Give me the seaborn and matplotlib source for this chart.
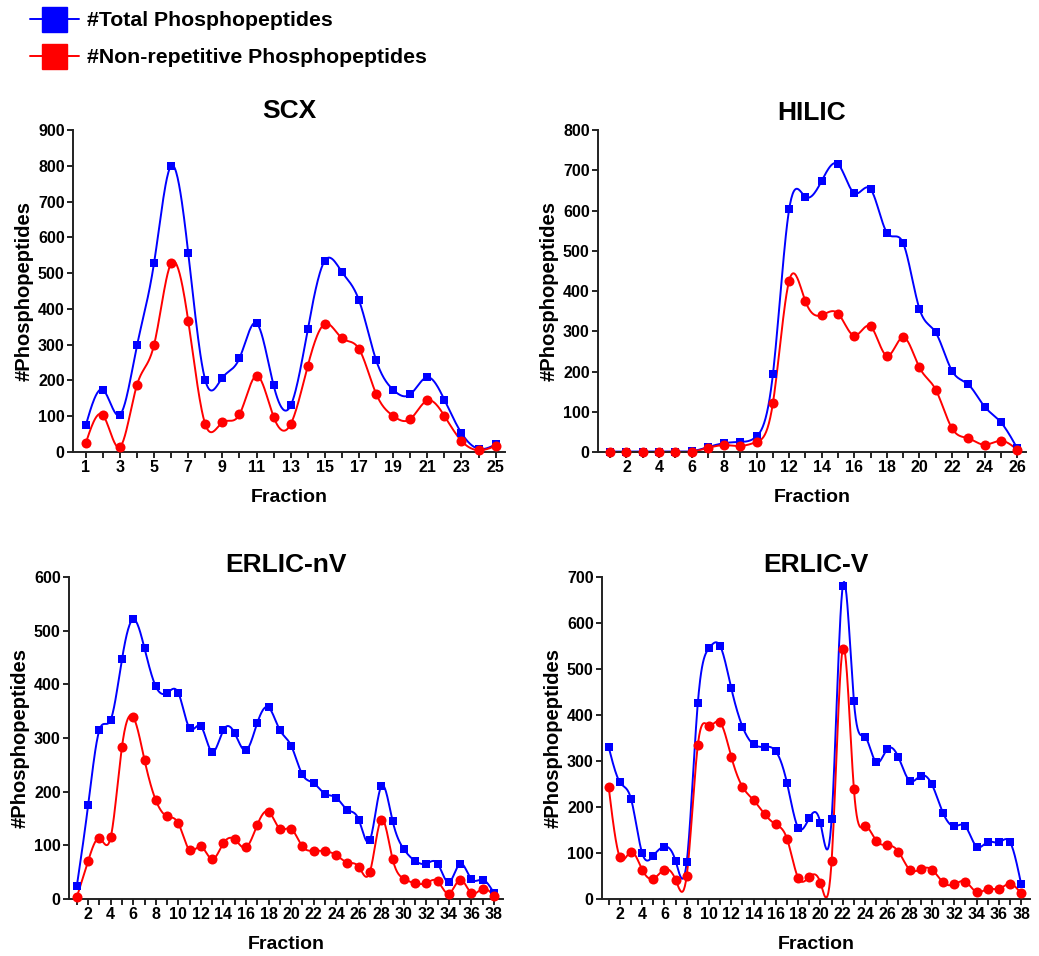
import numpy as np
import pandas as pd
import matplotlib
matplotlib.use("Agg")
import matplotlib.pyplot as plt
from matplotlib.lines import Line2D
from matplotlib.ticker import MultipleLocator
import seaborn as sns

# ---------------- data ----------------
scx_frac = list(range(1, 26))
scx_total = [75, 174, 104, 298, 529, 800, 556, 200, 208, 262, 360, 186, 130,
             343, 535, 503, 424, 257, 174, 161, 209, 146, 53, 9, 21]
scx_nonrep = [25, 103, 14, 188, 300, 528, 366, 77, 83, 105, 213, 98, 78,
              241, 358, 318, 288, 163, 101, 92, 144, 101, 31, 5, 17]

hilic_frac = list(range(1, 27))
hilic_total = [1, 1, 1, 1, 1, 2, 12, 22, 25, 39, 194, 604, 634, 674, 715, 643,
               653, 545, 519, 356, 297, 202, 168, 113, 74, 10]
hilic_nonrep = [0, 0, 0, 0, 0, 1, 10, 17, 15, 25, 122, 426, 374, 340, 344, 289,
                312, 239, 285, 210, 155, 59, 34, 18, 28, 6]

erlicnv_frac = list(range(1, 39))
erlicnv_total = [25, 175, 315, 334, 447, 521, 467, 396, 384, 384, 318, 322, 274,
                 315, 309, 277, 328, 357, 315, 286, 232, 216, 196, 189, 166, 148,
                 110, 210, 146, 93, 71, 66, 66, 31, 66, 37, 36, 11]
erlicnv_nonrep = [4, 71, 113, 115, 284, 339, 259, 184, 154, 141, 91, 98, 74,
                  104, 111, 96, 138, 163, 131, 131, 98, 90, 89, 82, 68, 60,
                  51, 148, 75, 38, 29, 30, 33, 10, 36, 11, 19, 6]

erlicv_frac = list(range(1, 39))
erlicv_total = [330, 254, 218, 100, 94, 114, 83, 80, 427, 545, 550, 458, 375,
                336, 331, 321, 252, 155, 176, 165, 174, 680, 430, 353, 297, 326,
                308, 257, 268, 249, 187, 158, 158, 114, 124, 123, 124, 33]
erlicv_nonrep = [243, 91, 103, 64, 44, 64, 42, 51, 335, 377, 384, 309, 244,
                 215, 184, 162, 131, 46, 48, 35, 83, 544, 239, 158, 127, 117,
                 103, 64, 65, 64, 36, 32, 38, 15, 22, 22, 33, 12]

titles = ["SCX", "HILIC", "ERLIC-nV", "ERLIC-V"]
label_total = "#Total Phosphopeptides"
label_nonrep = "#Non-repetitive Phosphopeptides"

BLUE = "#0000FF"
RED = "#FF0000"
FONT = "Liberation Sans"


def natural_spline(x, y, per=24):
    x = np.asarray(x, float)
    y = np.asarray(y, float)
    n = len(x)
    h = np.diff(x)
    A = np.zeros((n, n))
    r = np.zeros(n)
    A[0, 0] = 1
    A[-1, -1] = 1
    for i in range(1, n - 1):
        A[i, i - 1] = h[i - 1]
        A[i, i] = 2 * (h[i - 1] + h[i])
        A[i, i + 1] = h[i]
        r[i] = 6 * ((y[i + 1] - y[i]) / h[i] - (y[i] - y[i - 1]) / h[i - 1])
    M = np.linalg.solve(A, r)
    xs, ys = [], []
    for i in range(n - 1):
        t = np.linspace(x[i], x[i + 1], per, endpoint=(i == n - 2))
        a = x[i + 1] - t
        b = t - x[i]
        s = (M[i] * a ** 3 + M[i + 1] * b ** 3) / (6 * h[i]) \
            + (y[i] / h[i] - M[i] * h[i] / 6) * a \
            + (y[i + 1] / h[i] - M[i + 1] * h[i] / 6) * b
        xs.append(t)
        ys.append(s)
    return np.concatenate(xs), np.concatenate(ys)


sns.set_theme(style="ticks")
plt.rcParams["font.family"] = [FONT, "DejaVu Sans"]
plt.rcParams["font.weight"] = "bold"
plt.rcParams["axes.labelweight"] = "bold"
plt.rcParams["axes.titleweight"] = "bold"
plt.rcParams["text.color"] = "black"
plt.rcParams["axes.labelcolor"] = "black"
plt.rcParams["xtick.color"] = "black"
plt.rcParams["ytick.color"] = "black"

fig = plt.figure(figsize=(10.39, 9.56), dpi=100)
W, H = 1039, 956


def add_axes(x0, x1, ytop, ybot):
    return fig.add_axes([x0 / W, 1 - ybot / H, (x1 - x0) / W, (ybot - ytop) / H])


panels = [
    (add_axes(73, 505, 130, 452), scx_frac, scx_total, scx_nonrep,
     (0.25, 25.55), 900, 100, 1, 9),
    (add_axes(598, 1026, 130, 452), hilic_frac, hilic_total, hilic_nonrep,
     (0.25, 26.55), 800, 100, 2, 7),
    (add_axes(69, 503, 577, 899), erlicnv_frac, erlicnv_total, erlicnv_nonrep,
     (0.3, 38.8), 600, 100, 2, 2),
    (add_axes(602, 1030, 577, 899), erlicv_frac, erlicv_total, erlicv_nonrep,
     (0.4, 38.8), 700, 100, 2, 2),
]

for (ax, frac, tot, nonrep, xlim, ymax, ystep, lstep, tpad), title in zip(panels, titles):
    df = pd.DataFrame({"Fraction": frac, "total": tot, "nonrep": nonrep})
    for col, color, marker, ms in [("total", BLUE, "s", 38), ("nonrep", RED, "o", 52)]:
        xs, ys = natural_spline(df["Fraction"], df[col])
        ax.plot(xs, ys, color=color, lw=1.4, zorder=2, clip_on=False)
        sns.scatterplot(data=df, x="Fraction", y=col, ax=ax, color=color,
                        marker=marker, s=ms, edgecolor=color, linewidth=0,
                        zorder=3, clip_on=False)
    ax.set_xlim(*xlim)
    ax.set_ylim(0, ymax)
    ax.yaxis.set_major_locator(MultipleLocator(ystep))
    if lstep == 1:
        ticks = [f for f in frac if f % 2 == 1]
    else:
        ticks = [f for f in frac if f % 2 == 0]
    ax.set_xticks(ticks)
    ax.set_xticks(frac, minor=True)
    ax.set_xticklabels([str(t) for t in ticks])
    ax.tick_params(axis="both", which="major", length=4, width=1.2,
                   labelsize=11.5, pad=2, direction="out", colors="black")
    ax.tick_params(axis="x", which="minor", length=4, width=1.2,
                   direction="out", colors="black")
    for lab in ax.get_xticklabels() + ax.get_yticklabels():
        lab.set_fontweight("bold")
    ax.set_xlabel("Fraction", fontsize=14, fontweight="bold", labelpad=10,
                  color="black")
    ax.set_ylabel("#Phosphopeptides", fontsize=14.5, fontweight="bold",
                  labelpad=3, color="black")
    ax.set_title(title, fontsize=19, fontweight="bold", pad=tpad, color="black")
    sns.despine(ax=ax)
    for sp in ["left", "bottom"]:
        ax.spines[sp].set_linewidth(1.4)
        ax.spines[sp].set_color("#222222")

handles = [
    Line2D([0], [0], color=BLUE, lw=1.4, marker="s", markersize=18,
           markerfacecolor=BLUE, markeredgecolor=BLUE),
    Line2D([0], [0], color=RED, lw=1.4, marker="s", markersize=18,
           markerfacecolor=RED, markeredgecolor=RED),
]
fig.legend(handles, [label_total, label_nonrep], loc="upper left",
           bbox_to_anchor=(30 / W, 1 - 11 / H), frameon=False, borderpad=0,
           borderaxespad=0, handlelength=2.3, handletextpad=0.4,
           labelspacing=0.85, prop={"family": FONT, "weight": "bold", "size": 15.3})

fig.savefig("out.png", dpi=100)
